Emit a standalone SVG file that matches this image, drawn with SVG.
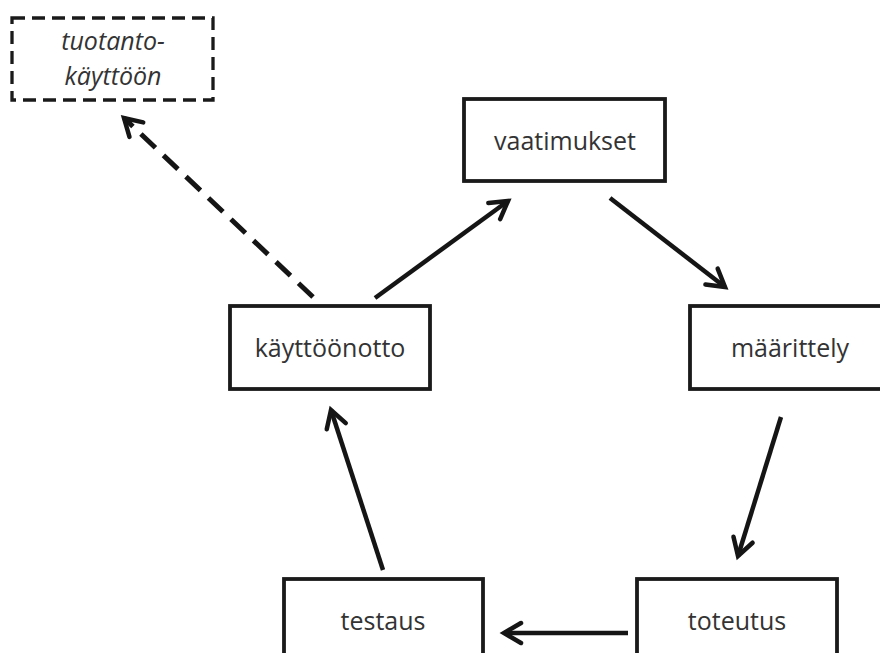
<svg xmlns="http://www.w3.org/2000/svg" width="880" height="653" viewBox="0 0 880 653">
  <style>
    .box { fill: #ffffff; stroke: #1a1a1a; stroke-width: 3.8; }
    .dbox { fill: #ffffff; stroke: #1a1a1a; stroke-width: 3.3; stroke-dasharray: 13 7; }
    .lbl { font-family: "Open Sans", "Liberation Sans", sans-serif; font-size: 25px; fill: #333333; text-anchor: middle; }
    .ital { font-style: italic; }
    .conn { stroke: #151515; stroke-width: 4.5; fill: none; marker-end: url(#arrow); }
    .dash { stroke-dasharray: 20 11; stroke-width: 5; }
  </style>
  <defs>
    <marker id="arrow" markerUnits="userSpaceOnUse" markerWidth="40" markerHeight="40" refX="0" refY="0" viewBox="-30 -20 40 40" orient="auto" overflow="visible">
      <path d="M -17 -10 L 0 0 L -17 10" fill="none" stroke="#151515" stroke-width="4.5" stroke-linejoin="miter" stroke-linecap="round"/>
    </marker>
  </defs>
  <rect width="880" height="653" fill="#ffffff"/>

  <g id="connectors">
    <line class="conn dash" x1="313" y1="297" x2="124" y2="118"/>
    <line class="conn" x1="375" y1="298" x2="508" y2="201"/>
    <line class="conn" x1="610" y1="198" x2="725" y2="287"/>
    <line class="conn" x1="781" y1="417" x2="738" y2="556"/>
    <line class="conn" x1="628" y1="633" x2="504" y2="633"/>
    <line class="conn" x1="383" y1="570" x2="331" y2="410"/>
  </g>

  <g id="node-tuotantokayttoon">
    <rect class="dbox" x="12" y="18" width="201" height="82"/>
    <text class="lbl ital" x="113" y="50">tuotanto-</text>
    <text class="lbl ital" x="113" y="85">käyttöön</text>
  </g>
  <g id="node-vaatimukset">
    <rect class="box" x="464" y="99" width="201" height="82"/>
    <text class="lbl" x="565" y="150">vaatimukset</text>
  </g>
  <g id="node-kayttoonotto">
    <rect class="box" x="230" y="306" width="200" height="83"/>
    <text class="lbl" x="330" y="357">käyttöönotto</text>
  </g>
  <g id="node-maarittely">
    <rect class="box" x="690" y="306" width="200" height="83"/>
    <text class="lbl" x="790" y="357">määrittely</text>
  </g>
  <g id="node-testaus">
    <rect class="box" x="284" y="579" width="199" height="83"/>
    <text class="lbl" x="383" y="630">testaus</text>
  </g>
  <g id="node-toteutus">
    <rect class="box" x="637" y="579" width="200" height="83"/>
    <text class="lbl" x="737" y="630">toteutus</text>
  </g>
</svg>
